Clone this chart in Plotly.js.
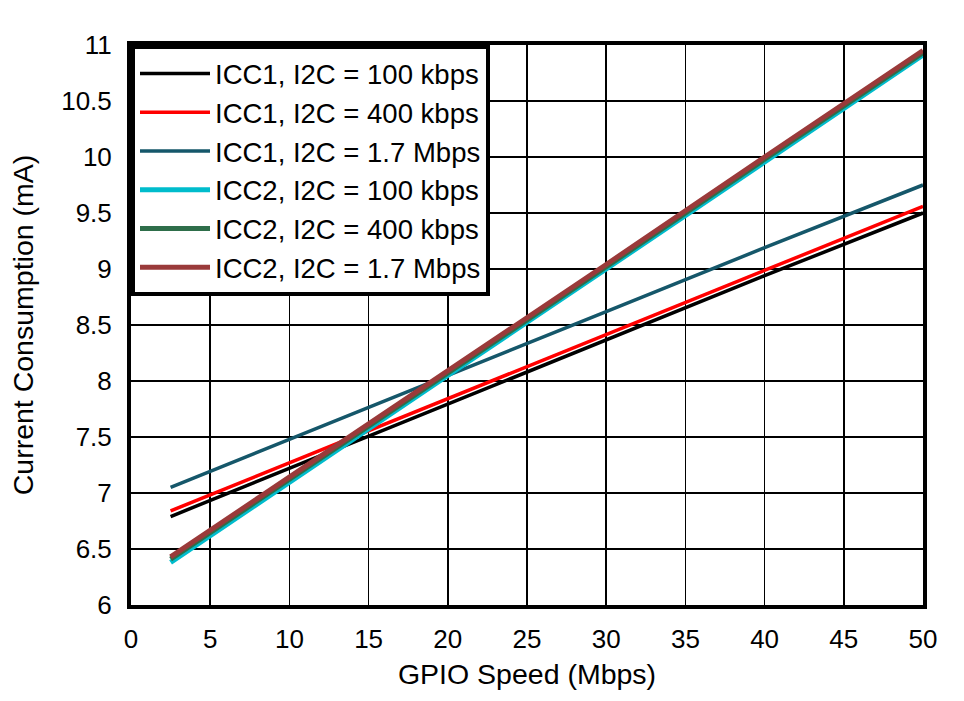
<!DOCTYPE html>
<html>
<head>
<meta charset="utf-8">
<script src="https://cdn.plot.ly/plotly-3.0.1.min.js"></script>
<style>html,body{margin:0;padding:0;background:#fff;}#chart{width:964px;height:701px;}</style>
</head>
<body>
<div id="chart"></div>
<script>
var gpioSpeed = [2.5, 10, 20, 30, 40, 50];
var icc1_100k = [6.79, 7.22, 7.80, 8.37, 8.94, 9.50];
var icc1_400k = [6.84, 7.27, 7.84, 8.42, 8.99, 9.56];
var icc1_1M7 = [7.05, 7.48, 8.05, 8.62, 9.19, 9.75];
var icc2_100k = [6.38, 7.10, 8.05, 9.00, 9.96, 10.91];
var icc2_400k = [6.41, 7.12, 8.07, 9.02, 9.98, 10.93];
var icc2_1M7 = [6.43, 7.14, 8.09, 9.04, 10.00, 10.95];
var seriesNames = ["ICC1, I2C = 100 kbps", "ICC1, I2C = 400 kbps", "ICC1, I2C = 1.7 Mbps",
                   "ICC2, I2C = 100 kbps", "ICC2, I2C = 400 kbps", "ICC2, I2C = 1.7 Mbps"];
var seriesColors = ["#000000", "#ff0000", "#15576a", "#00bccc", "#2e6e4a", "#9a3a3a"];
var seriesWidths = [3.5, 3.5, 3.5, 5, 5, 5];
var seriesData = [icc1_100k, icc1_400k, icc1_1M7, icc2_100k, icc2_400k, icc2_1M7];

var traces = seriesData.map(function(d, i) {
  return {x: gpioSpeed, y: d, type: 'scatter', mode: 'lines', name: seriesNames[i],
          line: {color: seriesColors[i], width: seriesWidths[i]}};
});

var font = "Arial, 'Liberation Sans', sans-serif";
var layout = {
  width: 964, height: 701,
  margin: {l: 131, r: 41, t: 45, b: 96},
  paper_bgcolor: '#fff', plot_bgcolor: '#fff',
  font: {family: font, color: '#000', size: 27},
  showlegend: true,
  legend: {x: 0, y: 1, xanchor: 'left', yanchor: 'top', bgcolor: '#fff',
           bordercolor: '#000', borderwidth: 4, font: {family: font, size: 27.5, color: '#000'},
           itemwidth: 70, tracegroupgap: 0},
  xaxis: {range: [0, 50], dtick: 5, tick0: 0, showgrid: true, gridcolor: '#000', gridwidth: 1.5,
          showline: true, mirror: true, linecolor: '#000', linewidth: 4, ticks: '', zeroline: false,
          tickfont: {size: 26}, ticklabelstandoff: 8,
          title: {text: 'GPIO Speed (Mbps)', font: {size: 28.5}, standoff: 12}},
  yaxis: {range: [6, 11], dtick: 0.5, tick0: 6, showgrid: true, gridcolor: '#000', gridwidth: 1.5,
          showline: true, mirror: true, linecolor: '#000', linewidth: 4, ticks: '', zeroline: false,
          tickfont: {size: 26}, ticklabelstandoff: 10,
          title: {text: 'Current Consumption (mA)', font: {size: 28.5}, standoff: 20}}
};
Plotly.newPlot('chart', traces, layout, {displayModeBar: false, staticPlot: true});
</script>
</body>
</html>
